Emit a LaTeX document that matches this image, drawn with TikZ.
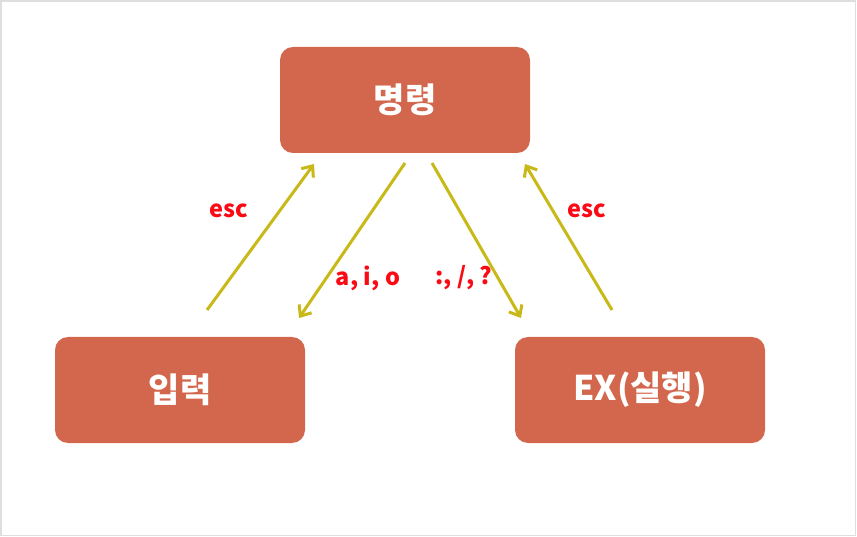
\documentclass[tikz,border=0pt]{standalone}
\usepackage{fontspec}
\setmainfont{Noto Sans CJK KR}
\usetikzlibrary{arrows.meta}
\definecolor{boxfill}{RGB}{211,103,77}
\definecolor{arrowcol}{RGB}{200,184,24}
\definecolor{labred}{RGB}{250,10,20}
\definecolor{framegray}{RGB}{222,222,222}
\tikzset{
  statebox/.style={fill=boxfill, rounded corners=13pt, minimum width=250pt, minimum height=106pt,
    text=white, font=\fontsize{34}{38}\selectfont\bfseries, inner sep=0pt},
  trans/.style={draw=arrowcol, line width=3pt, -{Straight Barb[length=9pt,width=15pt,line width=3pt]}},
  lab/.style={text=labred, font=\fontsize{23.5}{26}\selectfont\bfseries, inner sep=0pt}
}
\begin{document}
\begin{tikzpicture}[x=1pt,y=-1pt]
\useasboundingbox (0,0) rectangle (857,537);
\draw[framegray, line width=1.2pt] (1,1) rectangle (855.5,535.5);
\node[statebox] (cmd) at (405,100) {명령};
\node[statebox] (ins) at (180,390) {입력};
\node[statebox] (ex) at (640,390) {EX(실행)};
\coordinate (a1s) at (207,310); \coordinate (a1e) at (314,164);
\coordinate (a2s) at (405,163); \coordinate (a2e) at (299,318);
\coordinate (a3s) at (432,163); \coordinate (a3e) at (521,318);
\coordinate (a4s) at (612,310); \coordinate (a4e) at (525,164);
\draw[trans] (a1s) -- (a1e);
\draw[trans] (a2s) -- (a2e);
\draw[trans] (a3s) -- (a3e);
\draw[trans] (a4s) -- (a4e);
\node[lab] (l1) at (229,211) {esc};
\node[lab] (l4) at (587,211) {esc};
\node[lab] (l2) at (368,278) {a, i, o};
\node[lab] (l3) at (464,278) {:, /, ?};
\end{tikzpicture}
\end{document}
